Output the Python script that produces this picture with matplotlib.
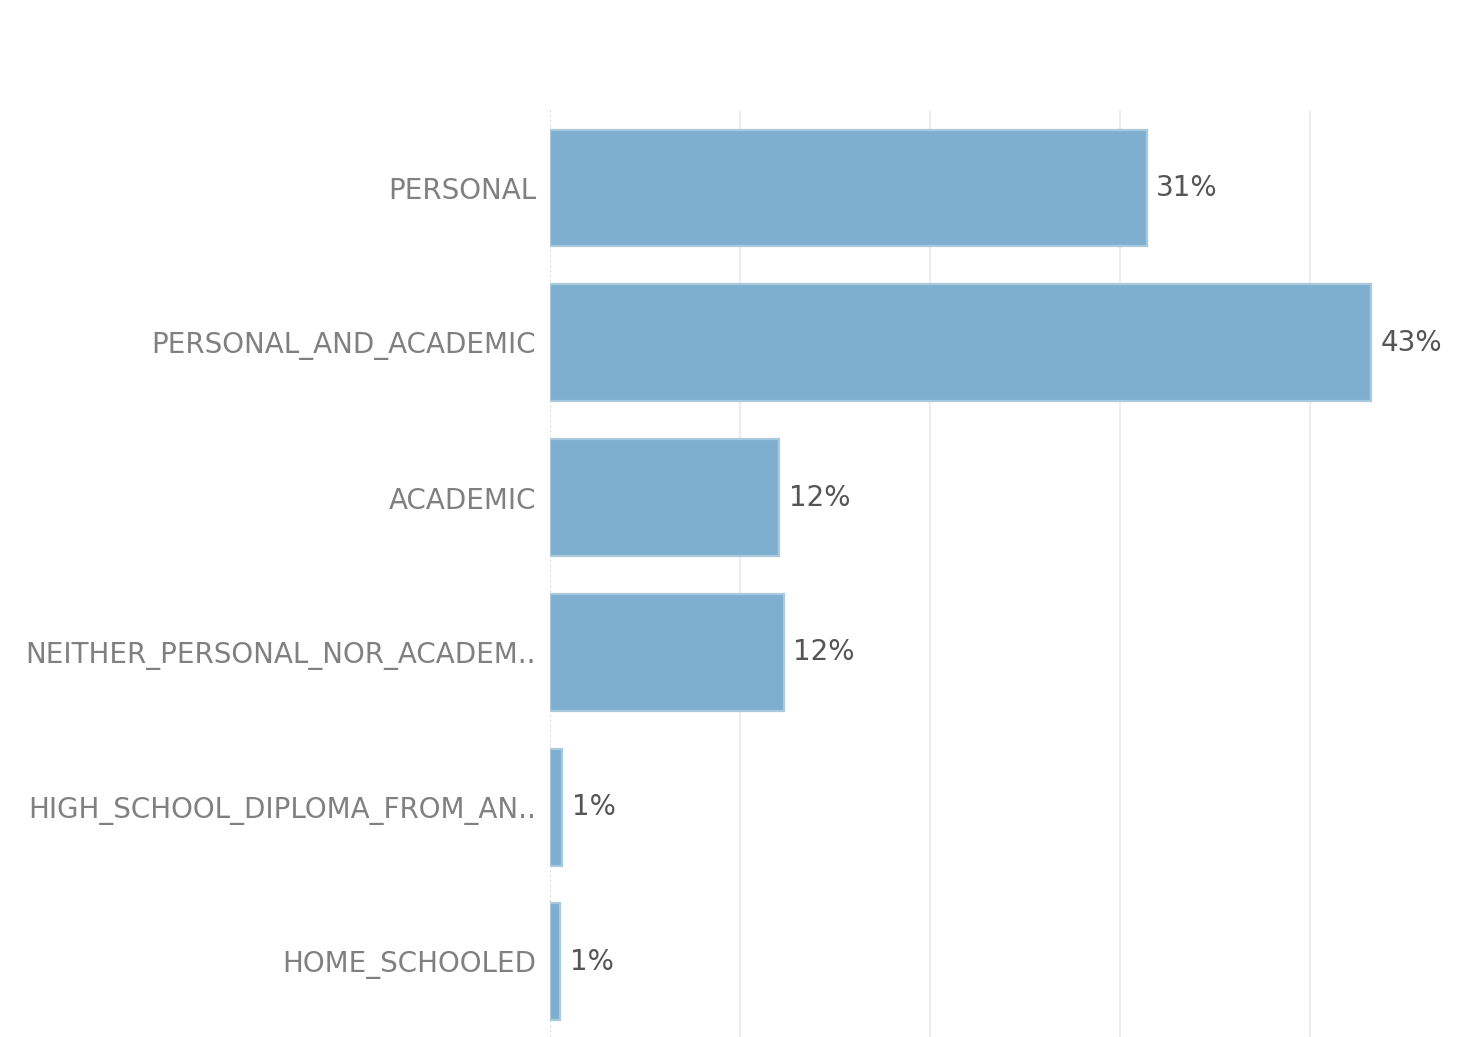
import numpy as np
import matplotlib.pyplot as plt

# share of each category, in percent
categories = [
    'PERSONAL',
    'PERSONAL_AND_ACADEMIC',
    'ACADEMIC',
    'NEITHER_PERSONAL_NOR_ACADEM..',
    'HIGH_SCHOOL_DIPLOMA_FROM_AN..',
    'HOME_SCHOOLED',
]
shares = [31.4, 43.2, 12.05, 12.3, 0.63, 0.55]
value_labels = ['31%', '43%', '12%', '12%', '1%', '1%']

fig = plt.figure(figsize=(14.84, 10.37), dpi=100)
ax = fig.add_axes([550/1484, 0.0, 1 - 550/1484, (1037 - 110)/1037])

y = np.arange(len(categories))
ax.barh(y, shares, height=0.755, color='#7eafcf', edgecolor='#a9c9de',
        linewidth=1.6, zorder=3)

for yi, v, lab in zip(y, shares, value_labels):
    ax.annotate(lab, (v, yi), textcoords='offset points', xytext=(7, 0),
                ha='left', va='center', fontsize=20, color='#555555')

ax.set_xlim(0, 49.16)
ax.set_ylim(len(categories) - 0.515, -0.504)

ax.set_yticks(y)
ax.set_yticklabels(categories, fontsize=20, color='#808080')
ax.tick_params(axis='y', length=0, pad=10)
ax.set_xticks([10, 20, 30, 40])
ax.tick_params(axis='x', length=0, labelbottom=False)

ax.grid(axis='x', color='#eeeeee', lw=1.6, zorder=0)
ax.axvline(0, color='#cccccc', lw=1.2, ls=(0, (1, 2)), zorder=1)
for s in ax.spines.values():
    s.set_visible(False)

plt.savefig('out.png', dpi=100)
